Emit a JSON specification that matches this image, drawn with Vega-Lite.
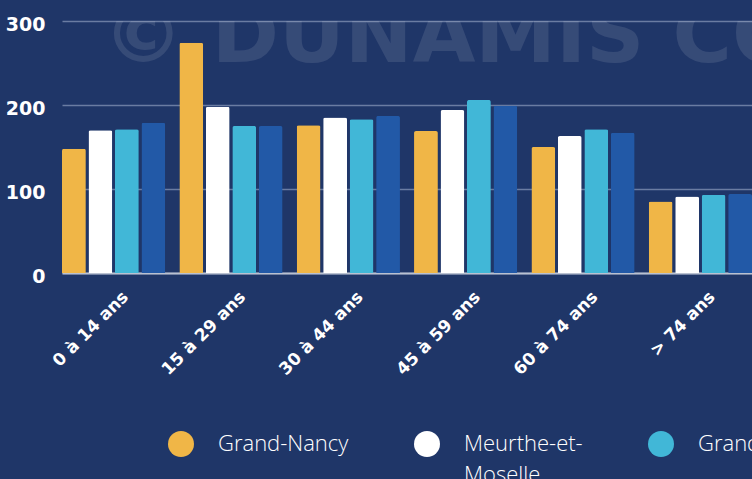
{
  "$schema": "https://vega.github.io/schema/vega-lite/v6.json",
  "width": 690,
  "height": 252,
  "autosize": {"type": "none"},
  "padding": {"left": 62, "top": 21, "right": 0, "bottom": 206},
  "background": "#1f3668",
  "config": {
    "view": {"stroke": null},
    "axis": {"labelColor": "#ffffff", "title": null, "ticks": false}
  },
  "data": {
    "values": [
      {"age": "0 à 14 ans", "serie": "Grand-Nancy", "value": 148},
      {"age": "0 à 14 ans", "serie": "Meurthe-et-Moselle", "value": 170},
      {"age": "0 à 14 ans", "serie": "Grand Est", "value": 171},
      {"age": "0 à 14 ans", "serie": "France", "value": 179},
      {"age": "15 à 29 ans", "serie": "Grand-Nancy", "value": 274},
      {"age": "15 à 29 ans", "serie": "Meurthe-et-Moselle", "value": 198},
      {"age": "15 à 29 ans", "serie": "Grand Est", "value": 175},
      {"age": "15 à 29 ans", "serie": "France", "value": 175},
      {"age": "30 à 44 ans", "serie": "Grand-Nancy", "value": 176},
      {"age": "30 à 44 ans", "serie": "Meurthe-et-Moselle", "value": 185},
      {"age": "30 à 44 ans", "serie": "Grand Est", "value": 183},
      {"age": "30 à 44 ans", "serie": "France", "value": 187},
      {"age": "45 à 59 ans", "serie": "Grand-Nancy", "value": 169},
      {"age": "45 à 59 ans", "serie": "Meurthe-et-Moselle", "value": 194},
      {"age": "45 à 59 ans", "serie": "Grand Est", "value": 206},
      {"age": "45 à 59 ans", "serie": "France", "value": 199},
      {"age": "60 à 74 ans", "serie": "Grand-Nancy", "value": 150},
      {"age": "60 à 74 ans", "serie": "Meurthe-et-Moselle", "value": 163},
      {"age": "60 à 74 ans", "serie": "Grand Est", "value": 171},
      {"age": "60 à 74 ans", "serie": "France", "value": 167},
      {"age": "> 74 ans", "serie": "Grand-Nancy", "value": 85},
      {"age": "> 74 ans", "serie": "Meurthe-et-Moselle", "value": 91},
      {"age": "> 74 ans", "serie": "Grand Est", "value": 93},
      {"age": "> 74 ans", "serie": "France", "value": 94}
    ]
  },
  "layer": [
    {
      "data": {"values": [{"wm": "© DUNAMIS CONSEIL"}]},
      "mark": {"type": "text", "align": "left", "baseline": "alphabetic", "font": "DejaVu Sans", "fontWeight": "bold", "fontSize": 81, "color": "#ffffff", "opacity": 0.1, "dx": -11, "clip": true},
      "encoding": {
        "x": {"datum": "0 à 14 ans", "type": "nominal"},
        "y": {"datum": 251, "type": "quantitative"},
        "text": {"field": "wm"}
      }
    },
    {
      "mark": {"type": "bar", "cornerRadiusEnd": 2},
      "encoding": {
        "x": {
          "field": "age", "type": "nominal",
          "sort": ["0 à 14 ans", "15 à 29 ans", "30 à 44 ans", "45 à 59 ans", "60 à 74 ans", "> 74 ans"],
          "scale": {"paddingInner": 0.12, "paddingOuter": 0},
          "axis": {"labelAngle": -45, "labelFont": "DejaVu Sans", "labelFontWeight": "bold", "labelFontSize": 17, "labelPadding": 21, "labelOffset": 12, "domain": true, "domainColor": "#b9c1d1", "domainWidth": 2, "grid": false}
        },
        "xOffset": {
          "field": "serie", "type": "nominal",
          "sort": ["Grand-Nancy", "Meurthe-et-Moselle", "Grand Est", "France"],
          "scale": {"paddingInner": 0.1}
        },
        "y": {
          "field": "value", "type": "quantitative",
          "scale": {"domain": [0, 300], "nice": false},
          "axis": {"values": [0, 100, 200, 300], "labelFont": "DejaVu Sans", "labelFontWeight": "bold", "labelFontSize": 19, "labelPadding": 17, "labelOffset": 3, "domain": false, "grid": true, "gridColor": "#6a7ca2", "gridWidth": 1.5}
        },
        "color": {
          "field": "serie", "type": "nominal",
          "sort": ["Grand-Nancy", "Meurthe-et-Moselle", "Grand Est", "France"],
          "scale": {"domain": ["Grand-Nancy", "Meurthe-et-Moselle", "Grand Est", "France"], "range": ["#f0b647", "#ffffff", "#41b7d7", "#2259a7"]},
          "legend": {
            "orient": "none", "direction": "horizontal", "legendX": 106, "legendY": 410,
            "title": null, "symbolType": "circle", "symbolSize": 676, "symbolStrokeWidth": 0,
            "labelFont": "Open Sans", "labelFontWeight": 300, "labelFontSize": 22, "labelColor": "#ffffff",
            "labelOffset": 24, "columnPadding": 65, "labelLimit": 300,
            "labelExpr": "datum.label == 'Meurthe-et-Moselle' ? ['Meurthe-et-', 'Moselle'] : [datum.label, ' ']",
            "encode": {"labels": {"update": {"lineHeight": {"value": 31}}}}
          }
        }
      }
    }
  ]
}
